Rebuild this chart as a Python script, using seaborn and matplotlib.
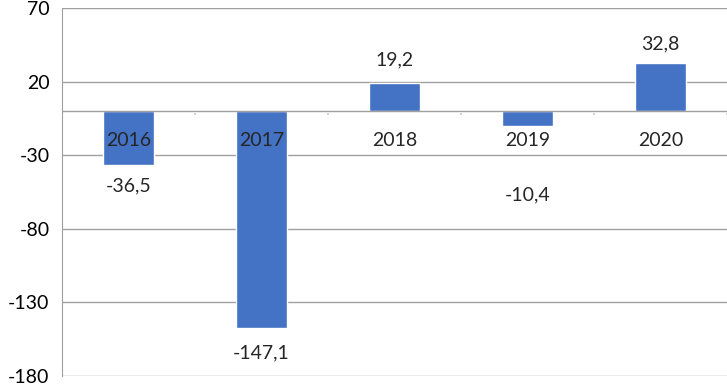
import matplotlib
matplotlib.use("Agg")
import matplotlib.pyplot as plt
import seaborn as sns
import pandas as pd

# datos
anios = ["2016", "2017", "2018", "2019", "2020"]
valores = [-36.5, -147.1, 19.2, -10.4, 32.8]
etiquetas = ["-36,5", "-147,1", "19,2", "-10,4", "32,8"]
ticks_y = [70, 20, -30, -80, -130, -180]

# desplazamiento de las etiquetas de valor (pixeles)
desplaz = [-21, -25, 23, -69, 19]

sns.set_style("white")
plt.rcParams["font.family"] = ["Lato", "DejaVu Sans"]

df = pd.DataFrame({"anio": anios, "valor": valores})

fig = plt.figure(figsize=(7.27, 3.84), dpi=100)
ax = fig.add_axes([62 / 727, 8 / 384, 1 - 62 / 727, 368 / 384])

sns.barplot(data=df, x="anio", y="valor", color="#4472C4", width=0.39,
            saturation=1, ax=ax, zorder=3)

ax.set_ylim(-180, 70)
ax.set_xlim(-0.5, len(anios) - 0.5)
ax.set_yticks(ticks_y)
ax.set_yticklabels([str(t) for t in ticks_y], fontsize=14)
ax.set_xticks([])
ax.set_xlabel("")
ax.set_ylabel("")

for t in ticks_y:
    ax.axhline(t, color="#a0a0a0", lw=1, zorder=1)
ax.axhline(0, color="#a0a0a0", lw=1, zorder=4)

# marcas en la línea cero entre categorías
for b in range(1, len(anios) + 1):
    ax.annotate("", xy=(b - 0.5, 0), xytext=(0, -6), textcoords="offset pixels",
                arrowprops=dict(arrowstyle="-", color="#a0a0a0", lw=1))

for s in ["top", "right", "bottom"]:
    ax.spines[s].set_visible(False)
ax.spines["left"].set_color("#a0a0a0")
ax.tick_params(axis="y", length=6, color="#a0a0a0", pad=3, labelcolor="black")

for i, a in enumerate(anios):
    ax.annotate(a, xy=(i, 0), xytext=(0, -29), textcoords="offset pixels",
                ha="center", va="center", fontsize=14, zorder=5)

for i, (v, lab) in enumerate(zip(valores, etiquetas)):
    ax.annotate(lab, xy=(i, v), xytext=(0, desplaz[i]), textcoords="offset pixels",
                ha="center", va="center", fontsize=14, zorder=5)

fig.savefig("out.png", dpi=100)
